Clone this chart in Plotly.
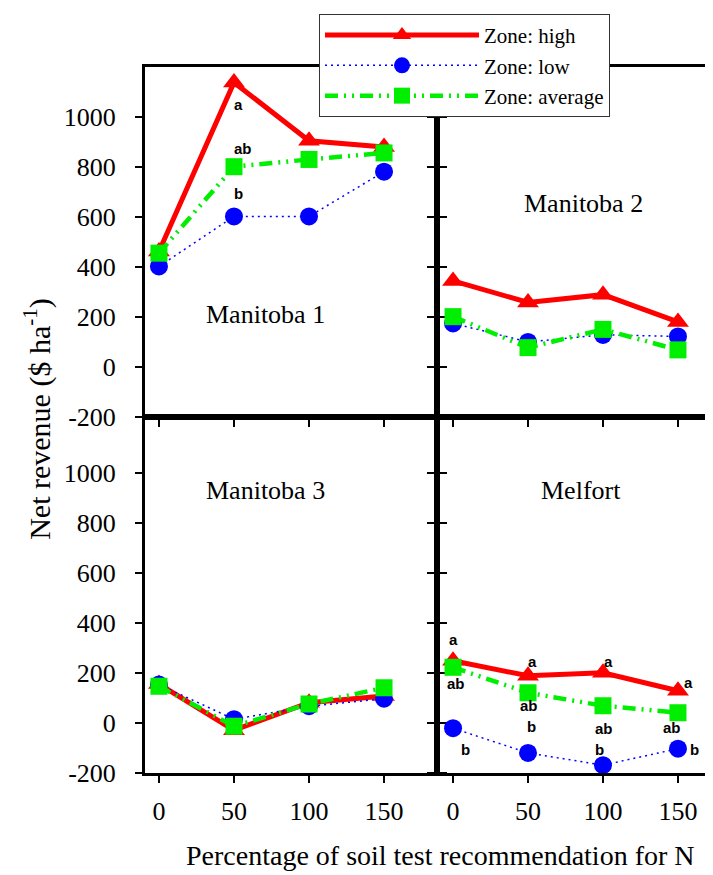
import plotly.graph_objects as go

# ---------------- data ----------------
doses = [0, 50, 100, 150]
panels = ["Manitoba 1", "Manitoba 2", "Manitoba 3", "Melfort"]

high = {
    "Manitoba 1": [462, 1138, 905, 880],
    "Manitoba 2": [344, 258, 289, 180],
    "Manitoba 3": [155, -30, 80, 107],
    "Melfort": [248, 188, 200, 128],
}
low = {
    "Manitoba 1": [402, 602, 602, 781],
    "Manitoba 2": [174, 100, 128, 122],
    "Manitoba 3": [153, 14, 66, 96],
    "Melfort": [-22, -121, -170, -104],
}
average = {
    "Manitoba 1": [455, 801, 830, 856],
    "Manitoba 2": [201, 77, 150, 68],
    "Manitoba 3": [146, -14, 75, 140],
    "Melfort": [222, 120, 68, 40],
}

x_ticks = [0, 50, 100, 150]
x_tick_text = ["0", "50", "100", "150"]
y_ticks = [-200, 0, 200, 400, 600, 800, 1000]
y_tick_text = ["-200", "0", "200", "400", "600", "800", "1000"]

# significance letters: (panel, series, dose index, letter)
letters = [
    ("Manitoba 1", "high", 1, "a"),
    ("Manitoba 1", "average", 1, "ab"),
    ("Manitoba 1", "low", 1, "b"),
    ("Melfort", "high", 0, "a"),
    ("Melfort", "average", 0, "ab"),
    ("Melfort", "low", 0, "b"),
    ("Melfort", "high", 1, "a"),
    ("Melfort", "average", 1, "ab"),
    ("Melfort", "low", 1, "b"),
    ("Melfort", "high", 2, "a"),
    ("Melfort", "average", 2, "ab"),
    ("Melfort", "low", 2, "b"),
    ("Melfort", "high", 3, "a"),
    ("Melfort", "average", 3, "ab"),
    ("Melfort", "low", 3, "b"),
]
# label pixel offsets (style)
letter_offsets = [
    (5, -22), (9, 18), (5, 23),
    (0, 21), (3, -16), (12, -21),
    (4, 14), (1, -13), (3, 26),
    (6, 11), (1, -23), (-3, 16),
    (11, 8), (-6, -15), (17, -1),
]

# ---------------- layout geometry ----------------
W, H = 713, 875
def px(x):
    return x / W
def py(y):
    return 1 - y / H

x_dom_left = [px(137), px(429)]
x_dom_right = [px(429), 1.0]
y_dom_top = [py(416), py(60)]
y_dom_bot = [py(778), py(416)]

serif = "Liberation Serif"
sans = "Liberation Sans"

fig = go.Figure()

series_def = [
    ("high", high, "Zone: high",
     dict(color="#ff0000", width=5, dash="solid"),
     dict(symbol="triangle-up", size=19, color="#ff0000")),
    ("low", low, "Zone: low",
     dict(color="#0000ff", width=1.5, dash="2px,4px"),
     dict(symbol="circle", size=18, color="#0000ff")),
    ("average", average, "Zone: average",
     dict(color="#00ee00", width=4.5, dash="13px,6px,2px,6px,2px,6px"),
     dict(symbol="square", size=17, color="#00ee00")),
]
series_map = {"high": high, "low": low, "average": average}

axis_ids = ["", "2", "3", "4"]
for i, pname in enumerate(panels):
    for key, data, label, line, marker in series_def:
        fig.add_trace(go.Scatter(
            x=doses, y=data[pname], mode="lines+markers",
            name=label, line=line, marker=marker,
            showlegend=(i == 0), legendgroup=key,
            xaxis="x" + axis_ids[i], yaxis="y" + axis_ids[i],
            cliponaxis=False,
        ))

axis_common = dict(showgrid=False, zeroline=False, showline=True,
                   linecolor="black", linewidth=3, ticks="outside",
                   tickcolor="black", tickwidth=2)
tickfont = dict(family=serif, size=26, color="black")

layout = dict(
    width=W, height=H, margin=dict(l=0, r=0, t=0, b=0),
    paper_bgcolor="white", plot_bgcolor="white",
    font=dict(family=serif, color="black"),
    showlegend=True,
    legend=dict(x=px(311), y=py(6), xanchor="left", yanchor="top",
                bgcolor="white", bordercolor="#333", borderwidth=1,
                font=dict(family=serif, size=21, color="black"),
                itemwidth=154, tracegroupgap=0),
)

xranges = {"": [-9.3, 185.3], "2": [-10.7, 178.7], "3": [-9.3, 185.3], "4": [-10.7, 178.7]}
yranges = {"": [-200, 1200], "2": [-200, 1200], "3": [-200, 1225], "4": [-200, 1225]}
xdoms = {"": x_dom_left, "2": x_dom_right, "3": x_dom_left, "4": x_dom_right}
ydoms = {"": y_dom_top, "2": y_dom_top, "3": y_dom_bot, "4": y_dom_bot}

for aid in axis_ids:
    bottom = aid in ("3", "4")
    left = aid in ("", "3")
    layout["xaxis" + aid] = dict(
        axis_common, domain=xdoms[aid], range=xranges[aid],
        anchor="y" + aid, tickvals=x_ticks, ticktext=x_tick_text, ticklen=7,
        showticklabels=bottom, tickfont=tickfont, ticklabelstandoff=6,
        mirror=True,
    )
    layout["yaxis" + aid] = dict(
        axis_common, domain=ydoms[aid], range=yranges[aid],
        anchor="x" + aid, tickvals=y_ticks, ticktext=y_tick_text, ticklen=7,
        showticklabels=left, tickfont=tickfont, ticklabelstandoff=14,
        mirror="ticks" if left else False,
    )

fig.update_layout(**layout)

annotations = []
# panel titles
title_pos = {"Manitoba 1": (257, 312), "Manitoba 2": (575, 199),
             "Manitoba 3": (257, 491), "Melfort": (573, 491)}
for pname in panels:
    tx, ty = title_pos[pname]
    annotations.append(dict(x=px(tx), y=py(ty), xref="paper", yref="paper",
                            xanchor="center", yanchor="middle",
                            text=pname, showarrow=False,
                            font=dict(family=serif, size=26, color="black")))

# significance letters
for (pname, skey, di, letter), (dx, dy) in zip(letters, letter_offsets):
    aid = axis_ids[panels.index(pname)]
    annotations.append(dict(
        x=doses[di], y=series_map[skey][pname][di],
        xref="x" + aid, yref="y" + aid, text="<b>" + letter + "</b>",
        showarrow=False, xshift=dx, yshift=dy,
        xanchor="center", yanchor="middle",
        font=dict(family=sans, size=15, color="black")))

# axis titles
annotations.append(dict(x=px(432), y=py(862), xref="paper", yref="paper",
                        xanchor="center", yanchor="middle",
                        text="Percentage of soil test recommendation for N",
                        showarrow=False,
                        font=dict(family=serif, size=28, color="black")))
annotations.append(dict(x=px(30), y=py(418), xref="paper", yref="paper",
                        xanchor="center", yanchor="middle",
                        text="Net revenue ($ ha<sup>-1</sup>)", textangle=-90,
                        showarrow=False,
                        font=dict(family=serif, size=30, color="black")))

fig.update_layout(annotations=annotations)

fig.write_html("out.html")
